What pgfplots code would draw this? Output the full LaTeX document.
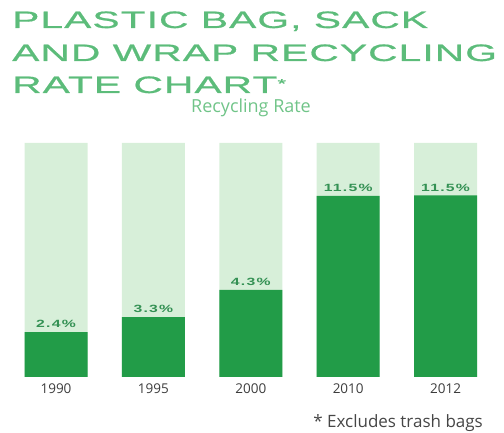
\documentclass[border=0pt]{standalone}
\usepackage{pgfplots}
\pgfplotsset{compat=1.18}
\usepackage{pgfplotstable}
\usepackage{fontspec}
\setmainfont{Open Sans}
\newfontfamily\titlefont[FakeStretch=1.72,LetterSpace=4.5,FakeBold=0.8]{Liberation Sans}
\newfontfamily\labfont[FakeStretch=1.5,LetterSpace=12]{Liberation Sans}
\definecolor{titlegreen}{RGB}{92,188,122}
\definecolor{subgreen}{RGB}{112,196,136}
\definecolor{darkbar}{RGB}{34,156,72}
\definecolor{lightbar}{RGB}{215,239,217}
\definecolor{labgreen}{RGB}{52,145,84}
\definecolor{yeargray}{RGB}{60,60,60}
\definecolor{footgray}{RGB}{70,70,70}

\pgfplotstableread{
x year rate height full
0 1990 2.4 0.192 1
1 1995 3.3 0.256 1
2 2000 4.3 0.372 1
3 2010 11.5 0.774 1
4 2012 11.5 0.776 1
}\datatable

\begin{document}
\begin{tikzpicture}[x=1pt,y=1pt]
\path[use as bounding box] (0,0) rectangle (504,433);
\node[anchor=base west, inner sep=0, text=titlegreen, font=\titlefont\fontsize{23.7}{28}\selectfont] at (12,405) {PLASTIC BAG, SACK};
\node[anchor=base west, inner sep=0, text=titlegreen, font=\titlefont\fontsize{23.7}{28}\selectfont] at (12,372) {AND WRAP RECYCLING};
\node[anchor=base west, inner sep=0, text=titlegreen, font=\titlefont\fontsize{23.7}{28}\selectfont] at (12,340) {RATE CHART\raisebox{5pt}{\fontsize{13}{13}\selectfont *}};
\node[anchor=base, inner sep=0, text=subgreen, font=\fontsize{18}{20}\selectfont] at (251,320) {Recycling Rate};
\node[anchor=base east, inner sep=0, text=footgray, font=\fontsize{17}{20}\selectfont] at (483,5) {* Excludes trash bags};
\begin{axis}[
  at={(7.3pt,56pt)}, anchor=south west,
  scale only axis, width=487pt, height=234pt,
  xmin=-0.5, xmax=4.5, ymin=0, ymax=1,
  axis line style={draw=none},
  ymajorticks=false,
  xtick={0,1,2,3,4},
  xticklabels={1990,1995,2000,2010,2012},
  major tick length=0pt,
  xticklabel style={font=\fontsize{13.5}{15}\selectfont, text=yeargray, yshift=-3pt},
  clip=false,
]
\addplot[ybar, bar width=63pt, bar shift=0pt, fill=lightbar, draw=none] table[x=x, y=full] {\datatable};
\addplot[ybar, bar width=63pt, bar shift=0pt, fill=darkbar, draw=none,
  point meta=explicit,
  nodes near coords={\pgfmathprintnumber[fixed,fixed zerofill,precision=1,assume math mode=true]{\pgfplotspointmeta}\%},
  nodes near coords style={font=\labfont\bfseries\fontsize{10.5}{12}\selectfont, text=labgreen, anchor=south, inner sep=0pt, yshift=4pt},
] table[x=x, y=height, meta=rate] {\datatable};
\end{axis}
\end{tikzpicture}
\end{document}
